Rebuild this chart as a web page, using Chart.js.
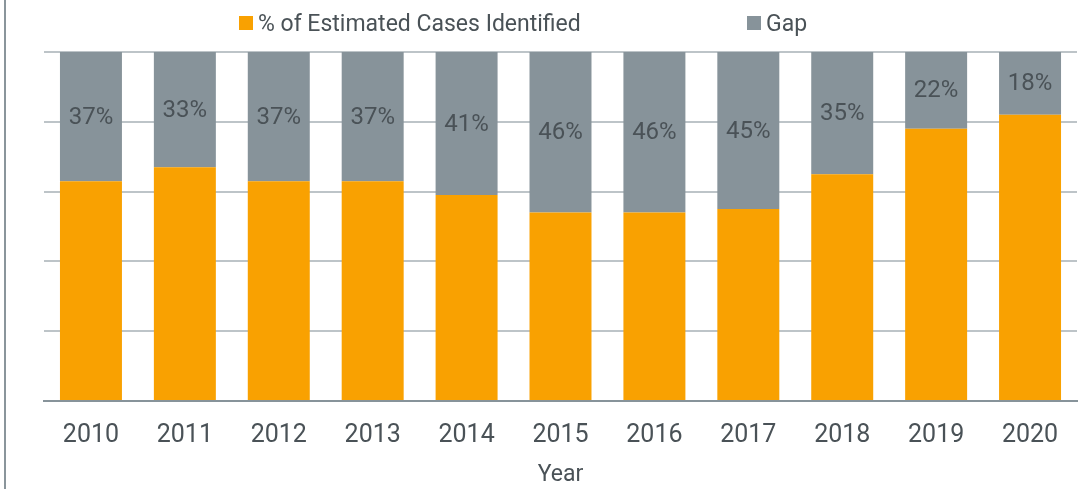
<!DOCTYPE html>
<html>
<head>
<meta charset="utf-8">
<script src="https://cdn.jsdelivr.net/npm/chart.js@4"></script>
<style>
  html, body { margin: 0; padding: 0; background: #fff; }
  #wrap { position: relative; width: 1090px; height: 489px; }
  #edge { position: absolute; left: 4px; top: 0; width: 2px; height: 489px; background: #8a959b; }
  #legend { position: absolute; top: 7px; left: 0; width: 1090px; height: 32px;
            font-family: Roboto, "Liberation Sans", sans-serif; font-weight: 400;
            font-size: 23px; color: #4a5257; }
  .item { position: absolute; top: 0; display: flex; align-items: center; height: 32px; }
  .box { width: 14px; height: 14px; margin-right: 5px; }
</style>
</head>
<body>
<div id="wrap">
  <canvas id="chart1" width="1090" height="489"></canvas>
  <div id="edge"></div>
  <div id="legend"></div>
</div>
<script>
var years = ['2010', '2011', '2012', '2013', '2014', '2015', '2016', '2017', '2018', '2019', '2020'];
var identified = [63, 67, 63, 63, 59, 54, 54, 55, 65, 78, 82];
var gap = [37, 33, 37, 37, 41, 46, 46, 45, 35, 22, 18];
var seriesNames = ['% of Estimated Cases Identified', 'Gap'];
var seriesColors = ['#f9a101', '#87939a'];

var fontFamily = 'Roboto, "Liberation Sans", sans-serif';
var textColor = '#4a5257';

// draws the gap % in the middle of each grey segment
var gapLabels = {
    id: 'gapLabels',
    afterDatasetsDraw: function(chart) {
        var ctx = chart.ctx;
        var meta = chart.getDatasetMeta(1);
        ctx.save();
        ctx.font = '400 24px ' + fontFamily;
        ctx.fillStyle = textColor;
        ctx.textAlign = 'center';
        ctx.textBaseline = 'middle';
        meta.data.forEach(function(bar, i) {
            var mid = (bar.y + bar.base) / 2;
            ctx.fillText(gap[i] + '%', bar.x, mid + 1);
        });
        ctx.restore();
    }
};

window.onload = function() {
    var ctx1 = document.getElementById('chart1').getContext('2d');

    var chart = new Chart(ctx1, {
        type: 'bar',
        data: {
            labels: years,
            datasets: [{
                label: seriesNames[0],
                data: identified,
                backgroundColor: seriesColors[0]
            }, {
                label: seriesNames[1],
                data: gap,
                backgroundColor: seriesColors[1]
            }]
        },
        options: {
            responsive: false,
            animation: false,
            categoryPercentage: 1,
            barPercentage: 0.66,
            layout: { padding: { left: 44, right: 13, top: 52, bottom: 0 } },
            plugins: {
                legend: { display: false },
                tooltip: { enabled: false }
            },
            scales: {
                x: {
                    stacked: true,
                    grid: { display: false, drawTicks: false },
                    border: { display: true, color: '#87939a', width: 2 },
                    ticks: {
                        color: textColor,
                        font: { family: fontFamily, size: 25, weight: 400 },
                        padding: 20
                    },
                    title: {
                        display: true,
                        text: 'Year',
                        color: textColor,
                        font: { family: fontFamily, size: 23, weight: 400 },
                        padding: { top: 0, bottom: 0 }
                    },
                    afterFit: function(scale) { scale.height = 88; }
                },
                y: {
                    stacked: true,
                    min: 0,
                    max: 100,
                    ticks: { display: false, stepSize: 20 },
                    grid: { color: '#bdc4c8', lineWidth: 2, drawTicks: false },
                    border: { display: false },
                    afterFit: function(scale) { scale.width = 0; }
                }
            }
        },
        plugins: [gapLabels]
    });

    // legend built from the dataset names and colours
    var legend = document.getElementById('legend');
    var lefts = [239, 747];
    chart.data.datasets.forEach(function(ds, i) {
        var item = document.createElement('div');
        item.className = 'item';
        item.style.left = lefts[i] + 'px';
        var box = document.createElement('span');
        box.className = 'box';
        box.style.background = ds.backgroundColor;
        var txt = document.createElement('span');
        txt.textContent = ds.label;
        item.appendChild(box);
        item.appendChild(txt);
        legend.appendChild(item);
    });
};
</script>
</body>
</html>
